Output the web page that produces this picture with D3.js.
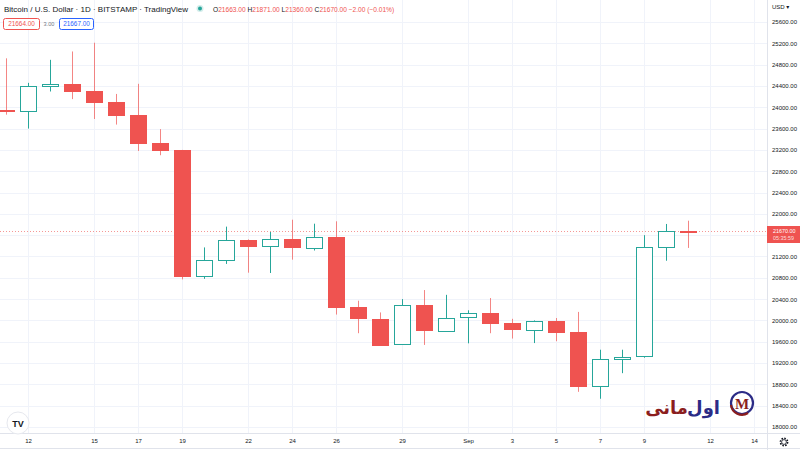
<!DOCTYPE html>
<html>
<head>
<meta charset="utf-8">
<script src="https://cdn.jsdelivr.net/npm/d3@7"></script>
<style>
  body { margin: 0; background: #fff; }
  svg { display: block; font-family: "Liberation Sans", "DejaVu Sans", sans-serif; }
</style>
</head>
<body>
<div id="chart"></div>
<script>
// daily candles, BTC/USD Bitstamp, Aug 11 - Sep 11 2022
const dates = ["2022-08-11","2022-08-12","2022-08-13","2022-08-14","2022-08-15","2022-08-16","2022-08-17","2022-08-18",
  "2022-08-19","2022-08-20","2022-08-21","2022-08-22","2022-08-23","2022-08-24","2022-08-25","2022-08-26","2022-08-27",
  "2022-08-28","2022-08-29","2022-08-30","2022-08-31","2022-09-01","2022-09-02","2022-09-03","2022-09-04","2022-09-05",
  "2022-09-06","2022-09-07","2022-09-08","2022-09-09","2022-09-10","2022-09-11"];
const open  = [23948,23937,24404,24442,24305,24098,23857,23335,23195,20834,21140,21514,21397,21525,21372,21570,20250,
  20035,19555,20285,19810,20050,20130,19950,19830,19990,19790,18780,19280,19320,21370,21672];
const high  = [24918,24458,24890,25047,25211,24250,24440,23590,23200,21370,21760,21520,21660,21890,21815,21860,20370,
  20150,20400,20570,20480,20190,20420,20030,20000,20045,20160,19450,19450,21600,21810,21871];
const low   = [23861,23600,24296,24153,23780,23675,23180,23100,20770,20780,21060,20896,20890,21140,21312,20110,19760,
  19530,19540,19540,19800,19570,19760,19660,19575,19610,18660,18530,19010,19300,21120,21360];
const close = [23937,24404,24442,24305,24098,23857,23335,23195,20834,21140,21514,21397,21525,21372,21570,20250,20035,
  19555,20285,19810,20050,20130,19950,19830,19990,19790,18780,19280,19320,21370,21672,21670];

const priceTicks = d3.range(18000, 25601, 400);
const timeTicks = [["2022-08-12","12"],["2022-08-15","15"],["2022-08-17","17"],["2022-08-19","19"],["2022-08-22","22"],
  ["2022-08-24","24"],["2022-08-26","26"],["2022-08-29","29"],["2022-09-01","Sep"],["2022-09-03","3"],["2022-09-05","5"],
  ["2022-09-07","7"],["2022-09-09","9"],["2022-09-12","12"],["2022-09-14","14"]];
const lastPrice = 21670;

const W = 800, H = 450;
const plotRight = 767, plotBottom = 433;
const up = "#26a69a", down = "#ef5350";

const parse = d3.utcParse("%Y-%m-%d");
const candles = dates.map((d, i) => ({ date: parse(d), o: open[i], h: high[i], l: low[i], c: close[i] }));

const x = d3.scaleUtc()
  .domain([parse("2022-08-12"), parse("2022-09-14")])
  .range([28, 754]);
const y = d3.scaleLinear()
  .domain([18000, 25600])
  .range([427, 22]);

const svg = d3.select("#chart").append("svg")
  .attr("width", W).attr("height", H);

// grid
const grid = svg.append("g");
grid.selectAll("line.h").data(priceTicks).enter().append("line")
  .attr("x1", 0).attr("x2", plotRight)
  .attr("y1", d => Math.round(y(d)) + 0.5).attr("y2", d => Math.round(y(d)) + 0.5)
  .attr("stroke", "#f0f3fa");
grid.selectAll("line.v").data(timeTicks).enter().append("line")
  .attr("y1", 0).attr("y2", plotBottom)
  .attr("x1", d => Math.round(x(parse(d[0]))) + 0.5).attr("x2", d => Math.round(x(parse(d[0]))) + 0.5)
  .attr("stroke", "#f0f3fa");

// last price dotted line
svg.append("line")
  .attr("x1", 0).attr("x2", plotRight)
  .attr("y1", Math.round(y(lastPrice)) + 0.5).attr("y2", Math.round(y(lastPrice)) + 0.5)
  .attr("stroke", down).attr("stroke-opacity", 0.6)
  .attr("stroke-dasharray", "1,2");

// candles
const bw = 16;
const g = svg.append("g");
const cx = d => Math.round(x(d.date)) + 0.5;
g.selectAll("line.wick").data(candles).enter().append("line")
  .attr("x1", cx).attr("x2", cx)
  .attr("y1", d => y(d.h)).attr("y2", d => y(d.l))
  .attr("stroke", d => d.c >= d.o ? up : down)
  .attr("stroke-opacity", d => d.c >= d.o ? 1 : 0.7);
g.selectAll("rect").data(candles).enter().append("rect")
  .attr("x", d => cx(d) - bw / 2)
  .attr("y", d => Math.round(y(Math.max(d.o, d.c))) + 0.5)
  .attr("width", bw)
  .attr("height", d => Math.max(1, Math.round(Math.abs(y(d.o) - y(d.c)))))
  .attr("fill", d => d.c >= d.o ? "#fff" : down)
  .attr("stroke", d => d.c >= d.o ? up : down)
  .attr("stroke-width", 1);

// axes panels
svg.append("rect").attr("x", plotRight).attr("y", 0).attr("width", W - plotRight).attr("height", H).attr("fill", "#fff");
svg.append("rect").attr("x", 0).attr("y", plotBottom).attr("width", W).attr("height", H - plotBottom).attr("fill", "#fff");
svg.append("line").attr("x1", plotRight + 0.5).attr("x2", plotRight + 0.5).attr("y1", 0).attr("y2", H).attr("stroke", "#e0e3eb");
svg.append("line").attr("x1", 0).attr("x2", W).attr("y1", plotBottom + 0.5).attr("y2", plotBottom + 0.5).attr("stroke", "#e0e3eb");
svg.append("line").attr("x1", 0).attr("x2", W).attr("y1", H - 1.5).attr("y2", H - 1.5).attr("stroke", "#e0e3eb");

// price axis (labels hidden where the last-price tag sits)
const labelTicks = priceTicks.filter(p => Math.abs(y(p) - y(lastPrice)) > 10);
const yAxis = svg.append("g")
  .attr("transform", `translate(${plotRight},0)`)
  .call(d3.axisRight(y).tickValues(labelTicks).tickSize(0).tickPadding(5).tickFormat(d3.format(".2f")));
yAxis.select(".domain").remove();
yAxis.selectAll("text").attr("fill", "#131722").attr("font-size", 6);

svg.append("text").attr("x", 772).attr("y", 9).attr("font-size", 6).attr("fill", "#131722").text("USD ▾");

// last price label
const lp = svg.append("g").attr("transform", `translate(${plotRight},${Math.round(y(lastPrice)) - 5})`);
lp.append("rect").attr("width", W - plotRight).attr("height", 17).attr("fill", down);
lp.append("text").attr("x", 6).attr("y", 6.5).attr("font-size", 5.4).attr("fill", "#fff").text(d3.format(".2f")(lastPrice));
lp.append("text").attr("x", 6).attr("y", 14).attr("font-size", 5.4).attr("fill", "#fff").attr("fill-opacity", 0.8).text("05:35:59");

// time axis
const xAxis = svg.append("g")
  .attr("transform", `translate(0,${plotBottom})`)
  .call(d3.axisBottom(x).tickValues(timeTicks.map(t => parse(t[0]))).tickSize(0).tickPadding(6)
    .tickFormat((d, i) => timeTicks[i][1]));
xAxis.select(".domain").remove();
xAxis.selectAll("text").attr("fill", "#131722").attr("font-size", 6);

// gear
const gear = svg.append("g").attr("transform", "translate(784,442)");
gear.append("circle").attr("r", 3.6).attr("fill", "none").attr("stroke", "#131722").attr("stroke-width", 1.6)
  .attr("stroke-dasharray", "1.6,1.2");
gear.append("circle").attr("r", 2.4).attr("fill", "#fff").attr("stroke", "#131722").attr("stroke-width", 0.8);

// header
svg.append("text").attr("x", 4).attr("y", 12).attr("font-size", 8).attr("fill", "#131722")
  .text("Bitcoin / U.S. Dollar · 1D · BITSTAMP · TradingView");
svg.append("circle").attr("cx", 200).attr("cy", 8.5).attr("r", 3.5).attr("fill", up).attr("fill-opacity", 0.2);
svg.append("circle").attr("cx", 200).attr("cy", 8.5).attr("r", 2).attr("fill", up);
const ohlc = svg.append("text").attr("x", 213).attr("y", 12).attr("font-size", 6.6).attr("fill", down);
[["O", "21663.00"], ["H", "21871.00"], ["L", "21360.00"], ["C", "21670.00"]].forEach(p => {
  ohlc.append("tspan").attr("fill", "#131722").text(p[0]);
  ohlc.append("tspan").text(p[1] + " ");
});
ohlc.append("tspan").text("−2.00 (−0.01%)");

svg.append("rect").attr("x", 3.5).attr("y", 18.5).attr("width", 36).attr("height", 11).attr("rx", 2)
  .attr("fill", "#fff").attr("stroke", down);
svg.append("text").attr("x", 21.5).attr("y", 26.3).attr("text-anchor", "middle").attr("font-size", 6.4).attr("fill", down).text("21664.00");
svg.append("text").attr("x", 49).attr("y", 26.3).attr("text-anchor", "middle").attr("font-size", 5.6).attr("fill", "#787b86").text("3.00");
svg.append("rect").attr("x", 59.5).attr("y", 18.5).attr("width", 34).attr("height", 11).attr("rx", 2)
  .attr("fill", "#fff").attr("stroke", "#2962ff");
svg.append("text").attr("x", 76.5).attr("y", 26.3).attr("text-anchor", "middle").attr("font-size", 6.4).attr("fill", "#2962ff").text("21667.00");

// TradingView logo
svg.append("circle").attr("cx", 18).attr("cy", 423).attr("r", 11).attr("fill", "#fff").attr("stroke", "#e6e8ee");
svg.append("text").attr("x", 18).attr("y", 426.5).attr("text-anchor", "middle").attr("font-size", 9)
  .attr("font-weight", "bold").attr("fill", "#131722").text("TV");

// watermark
const wm = svg.append("g");
wm.append("text").attr("x", 720).attr("y", 414).attr("text-anchor", "end").attr("font-family", "DejaVu Sans")
  .attr("font-size", 18).attr("font-weight", "bold").attr("fill", "#2b2b86").text("اول");
wm.append("text").attr("x", 688).attr("y", 414).attr("text-anchor", "end").attr("font-family", "DejaVu Sans")
  .attr("font-size", 18).attr("font-weight", "bold").attr("fill", "#8b1e1e").text("مانی");
wm.append("circle").attr("cx", 742).attr("cy", 403).attr("r", 11).attr("fill", "none").attr("stroke", "#2b2b86").attr("stroke-width", 2.2);
wm.append("path").attr("d", "M731,405 A11,11 0 0,0 748,413").attr("fill", "none").attr("stroke", "#8b1e1e").attr("stroke-width", 2.2);
wm.append("text").attr("x", 742).attr("y", 409).attr("text-anchor", "middle").attr("font-family", "Liberation Serif")
  .attr("font-size", 15).attr("font-weight", "bold").attr("fill", "#8b1e1e").text("M");
</script>
</body>
</html>
